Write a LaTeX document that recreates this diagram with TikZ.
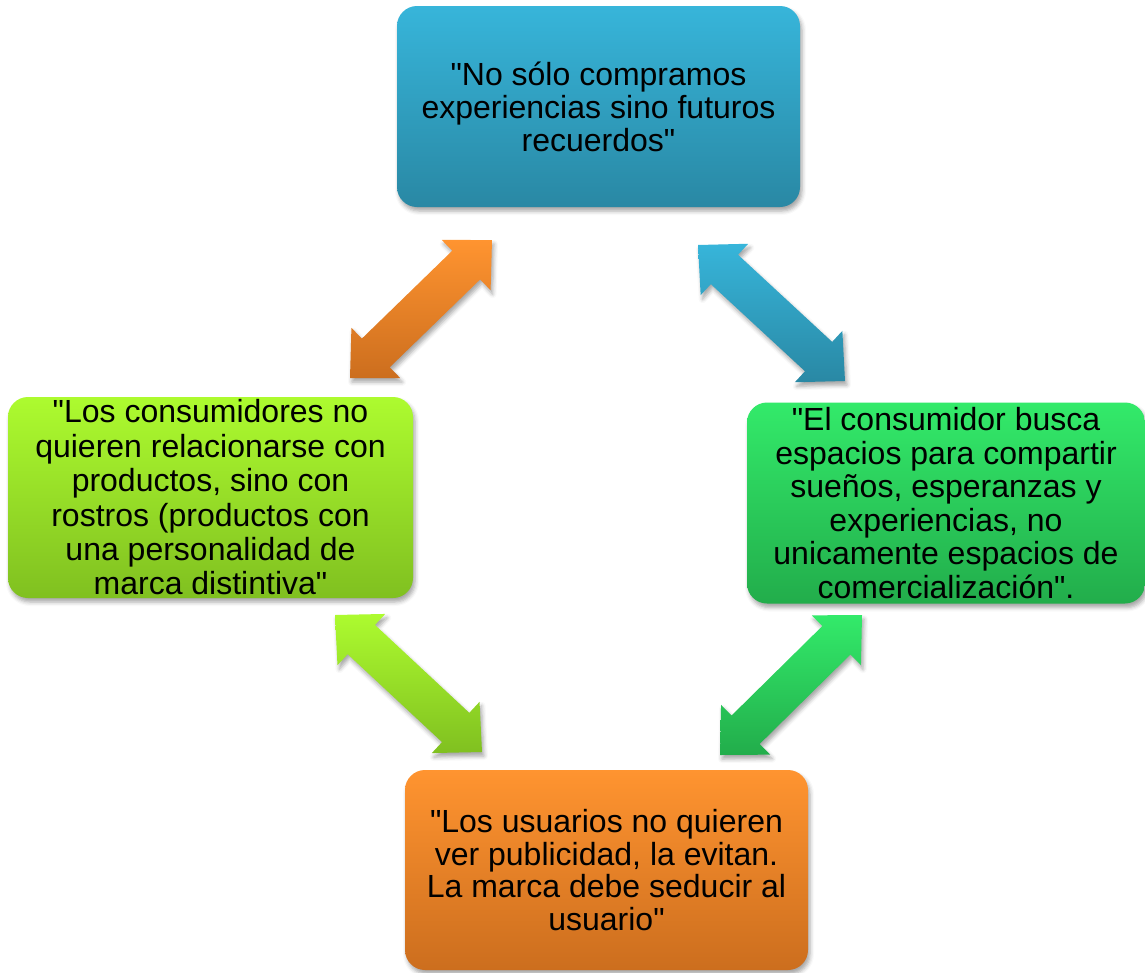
\documentclass[tikz,border=0pt]{standalone}
\usepackage{fontspec}
\setmainfont{Liberation Sans}[Ligatures=TeXOff]
\usetikzlibrary{calc,shadows.blur}
\newcommand{\dq}{\symbol{34}}
\definecolor{bluetop}{HTML}{37B5DA}
\definecolor{bluebot}{HTML}{2988A4}
\definecolor{limetop}{HTML}{ADFB2F}
\definecolor{limebot}{HTML}{80C020}
\definecolor{greentop}{HTML}{33EA6A}
\definecolor{greenbot}{HTML}{22AD4B}
\definecolor{orangetop}{HTML}{FF9430}
\definecolor{orangebot}{HTML}{CC6E1E}
\tikzset{
  softshadow/.style={blur shadow={shadow xshift=2pt, shadow yshift=-4pt, shadow blur radius=4pt, shadow opacity=35}},
  quotebox/.style={rounded corners=20pt, inner sep=0pt, align=center, text=black, softshadow},
}
\newcommand{\DblBlockArrow}[4]{%
  \path ($(#1)!36pt!(#2)$) coordinate (p1) ($(#2)!36pt!(#1)$) coordinate (p2);
  \shade[top color=#3, bottom color=#4, softshadow]
    (#1) -- ($(p1)!35pt!90:(#2)$) -- ($(p1)!20pt!90:(#2)$)
    -- ($(p2)!20pt!-90:(#1)$) -- ($(p2)!35pt!-90:(#1)$) -- (#2)
    -- ($(p2)!35pt!90:(#1)$) -- ($(p2)!20pt!90:(#1)$)
    -- ($(p1)!20pt!-90:(#2)$) -- ($(p1)!35pt!-90:(#2)$) -- cycle;
}
\begin{document}
\begin{tikzpicture}[x=1pt,y=-1pt]
\useasboundingbox (0,0) rectangle (1145,972);
% boxes
\node[quotebox, top color=bluetop, bottom color=bluebot, minimum width=403pt, minimum height=201pt,
  font=\fontsize{32}{33}\selectfont] (top) at (598.5,106.5)
  {\dq No sólo compramos\\experiencias sino futuros\\recuerdos\dq};
\node[quotebox, top color=limetop, bottom color=limebot, minimum width=405pt, minimum height=201pt,
  font=\fontsize{32}{34.4}\selectfont] (left) at (210.5,497.5)
  {\dq Los consumidores no\\quieren relacionarse con\\productos, sino con\\rostros (productos con\\una personalidad de\\marca distintiva\dq};
\node[quotebox, top color=greentop, bottom color=greenbot, minimum width=398pt, minimum height=201pt,
  font=\fontsize{32}{33.6}\selectfont] (right) at (946,503)
  {\dq El consumidor busca\\espacios para compartir\\sueños, esperanzas y\\experiencias, no\\unicamente espacios de\\comercialización\dq.};
\node[quotebox, top color=orangetop, bottom color=orangebot, minimum width=403pt, minimum height=200pt,
  font=\fontsize{32}{32.7}\selectfont] (bottom) at (606.5,870)
  {\dq Los usuarios no quieren\\ver publicidad, la evitan.\\La marca debe seducir al\\usuario\dq};
% arrow end points
\coordinate (oA) at (350,378); \coordinate (oB) at (492,240);
\coordinate (bA) at (698,245); \coordinate (bB) at (845,381);
\coordinate (lA) at (335,615); \coordinate (lB) at (482,752);
\coordinate (gA) at (862,615); \coordinate (gB) at (720,755);
\DblBlockArrow{oA}{oB}{orangetop}{orangebot}
\DblBlockArrow{bA}{bB}{bluetop}{bluebot}
\DblBlockArrow{lA}{lB}{limetop}{limebot}
\DblBlockArrow{gA}{gB}{greentop}{greenbot}
\end{tikzpicture}
\end{document}
